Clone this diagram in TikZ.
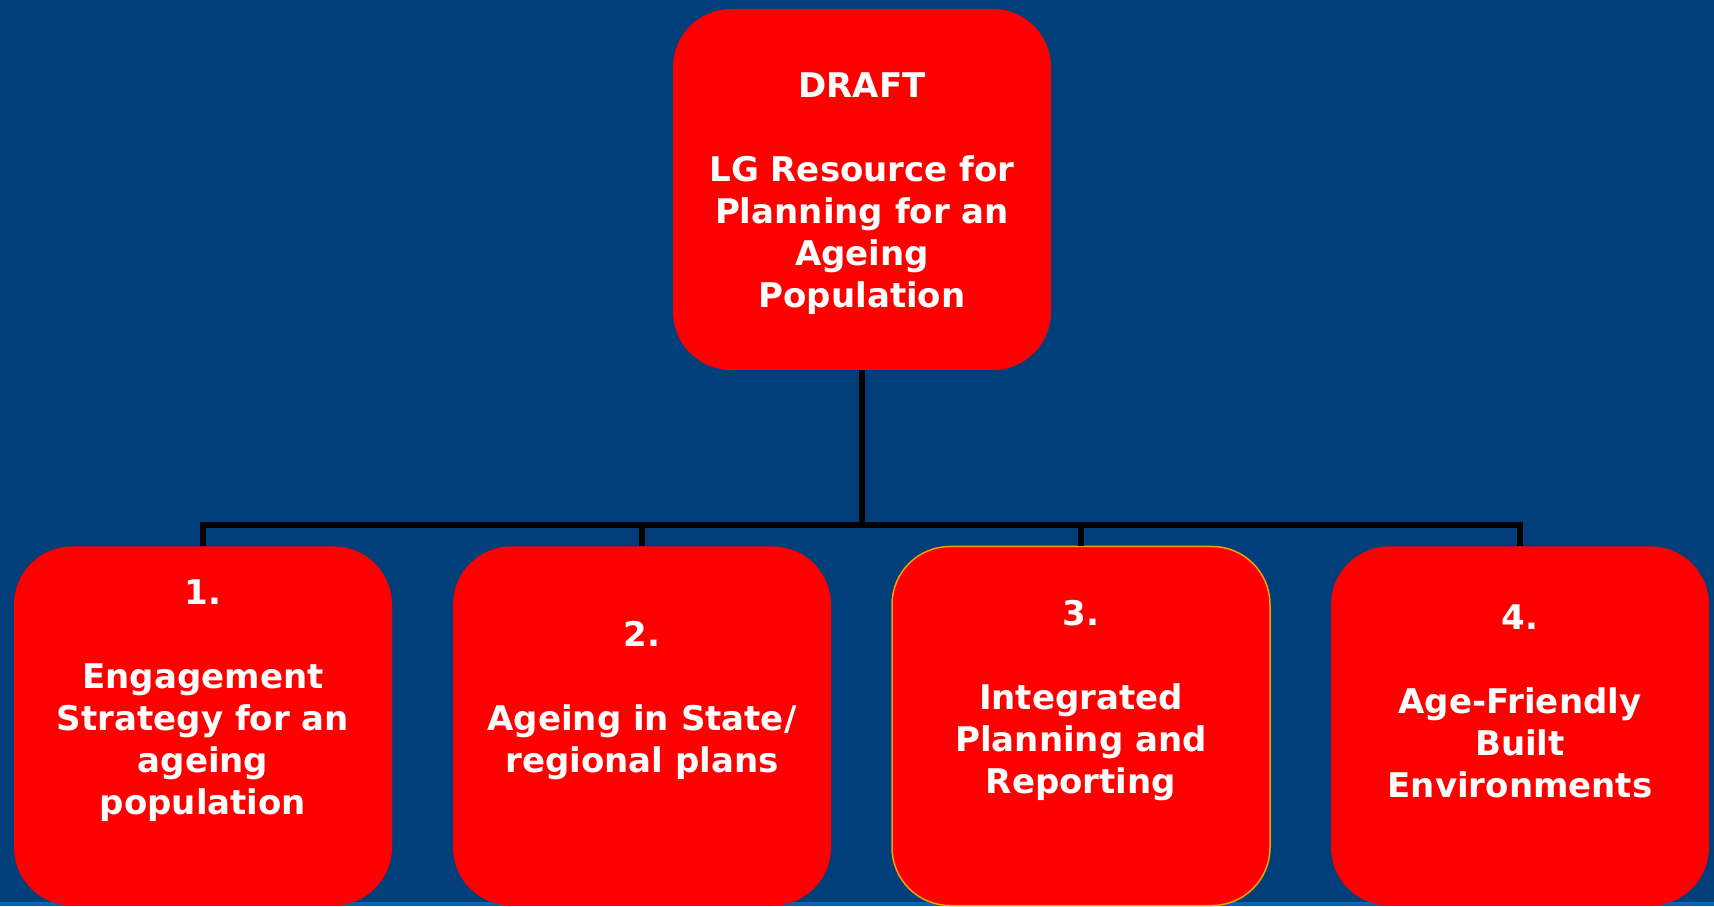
\documentclass[tikz,border=0pt]{standalone}
\usepackage{fontspec}
\setmainfont{DejaVu Sans}

\definecolor{slideblue}{HTML}{003F7A}
\definecolor{stripblue}{HTML}{0A64B4}
\definecolor{boxred}{HTML}{FF0000}
\definecolor{rimgold}{HTML}{F0A000}

\begin{document}
\begin{tikzpicture}[x=1pt, y=1pt]
\tikzset{box/.style={rectangle, rounded corners=58pt, fill=boxred, minimum width=378pt, minimum height=359pt, inner sep=0pt},
         txt/.style={text=white, align=center, font=\bfseries\fontsize{34}{42}\selectfont},
         link/.style={line width=5.5pt, black, line join=miter}}
  \fill[slideblue] (0,0) rectangle (1714,906);
  \fill[stripblue] (0,0) rectangle (1714,4);
  \useasboundingbox (0,0) rectangle (1714,906);

  \node[box, minimum height=361pt] (top) at (862,716.5) {};
  \node[txt] (ttop) at (top.center) [yshift=-4pt] {DRAFT\\[42pt]LG Resource for\\Planning for an\\Ageing\\Population};

  \node[box] (b1) at (203,180) {};
  \node[box] (b2) at (642,180) {};
  \node[box, draw=rimgold, line width=1.5pt] (b3) at (1081,180) {};
  \node[box] (b4) at (1520,180) {};

  \node[txt] (t1) at (b1.center) [yshift=25pt] {1.\\[42pt]Engagement\\Strategy for an\\ageing\\population};
  \node[txt] (t2) at (b2.center) [yshift=25pt] {2.\\[42pt]Ageing in State/\\regional plans};
  \node[txt] (t3) at (b3.center) [yshift=25pt] {3.\\[42pt]Integrated\\Planning and\\Reporting};
  \node[txt] (t4) at (b4.center) [yshift=25pt] {4.\\[42pt]Age-Friendly\\Built\\Environments};

  \coordinate (hub) at (862,381);
  \draw[link] (top.south) -- (hub);
  \draw[link] (b1.north) -- (b1.north |- hub) -- (b4.north |- hub) -- (b4.north);
  \foreach \b in {b2,b3}
    \draw[link] (\b.north) -- (\b.north |- hub);
\end{tikzpicture}
\end{document}
